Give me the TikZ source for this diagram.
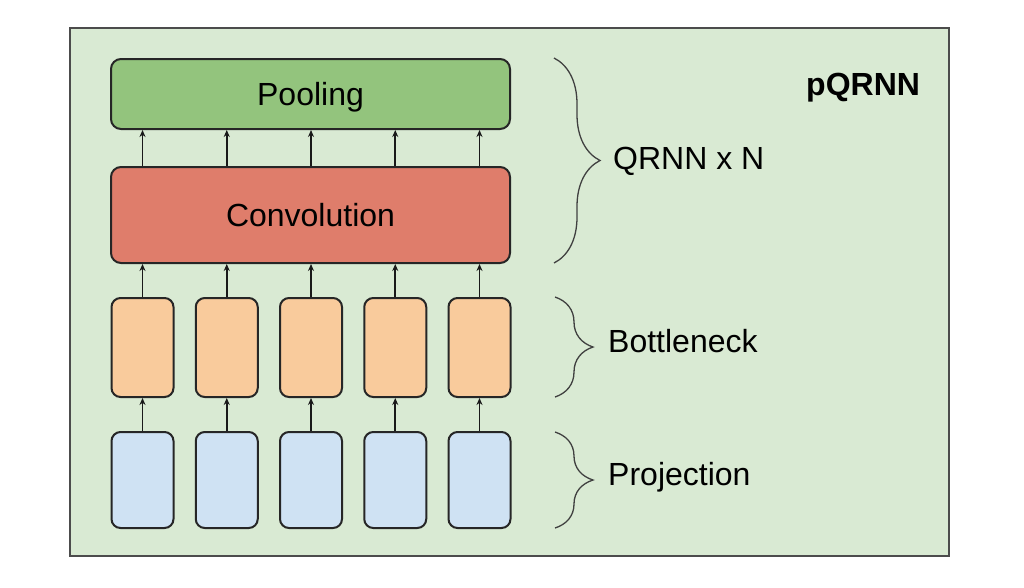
\documentclass[tikz,border=0pt]{standalone}
\usepackage{fontspec}
\setmainfont{Liberation Sans}
\usetikzlibrary{arrows.meta,calc,decorations.pathreplacing,positioning}
\definecolor{panelgreen}{HTML}{D9EAD3}
\definecolor{poolgreen}{HTML}{93C47D}
\definecolor{convred}{HTML}{DF7D6B}
\definecolor{neckorange}{HTML}{F9CB9C}
\definecolor{projblue}{HTML}{CFE2F3}

\begin{document}
\begin{tikzpicture}[x=1pt, y=-1pt,
    font=\fontsize{32}{38}\selectfont,
    box/.style={draw=black!85, line width=2pt, rounded corners=10pt, inner sep=0pt,
        text height=23pt, text depth=0pt},
    wide/.style={box, minimum width=399pt},
    cell/.style={box, minimum width=62pt, rounded corners=9pt},
    link/.style={-{Stealth[length=7pt,width=6pt]}, line width=1.9pt, black!90},
    curly/.style={decorate, line width=1.3pt, black!75},
    lab/.style={anchor=base west, inner sep=0pt}]

\useasboundingbox (0,0) rectangle (1024,587);
\draw[fill=panelgreen, draw=black!70, line width=1.5pt] (70,28) rectangle (949,556);

\node[wide, fill=poolgreen, minimum height=70pt] (pool) at (310.5,94) {Pooling};
\node[wide, fill=convred, minimum height=96pt] (conv) at (310.5,215) {Convolution};

\foreach \i [evaluate=\i as \cx using {142.5+84.25*(\i-1)}] in {1,...,5} {
    \node[cell, fill=neckorange, minimum height=99pt] (neck-\i) at (\cx,347.5) {};
    \node[cell, fill=projblue, minimum height=96pt] (proj-\i) at (\cx,480) {};
}

\foreach \i in {1,...,5} {
    \draw[link] (proj-\i.north) -- (neck-\i.south);
    \draw[link] (neck-\i.north) -- (neck-\i.north |- conv.south);
    \draw[link] (neck-\i.north |- conv.north) -- (neck-\i.north |- pool.south);
}

% braces on the right
\coordinate (qrnn-top) at (554,58);
\coordinate (qrnn-bot) at (554,263);
\coordinate (neck-top) at (555,297);
\coordinate (neck-bot) at (555,397);
\coordinate (proj-top) at (555,432);
\coordinate (proj-bot) at (555,528);

\draw[curly, decoration={brace, amplitude=46pt}] (qrnn-top) -- (qrnn-bot);
\draw[curly, decoration={brace, amplitude=38pt}] (neck-top) -- (neck-bot);
\draw[curly, decoration={brace, amplitude=38pt}] (proj-top) -- (proj-bot);

\node[lab] (qrnn-lab) at (613,169) {QRNN x N};
\node[lab] (neck-lab) at (608,352) {Bottleneck};
\node[lab] (proj-lab) at (608,485) {Projection};
\node[lab, font=\fontsize{32}{38}\selectfont\bfseries] (title) at (806,95) {pQRNN};

\end{tikzpicture}
\end{document}
